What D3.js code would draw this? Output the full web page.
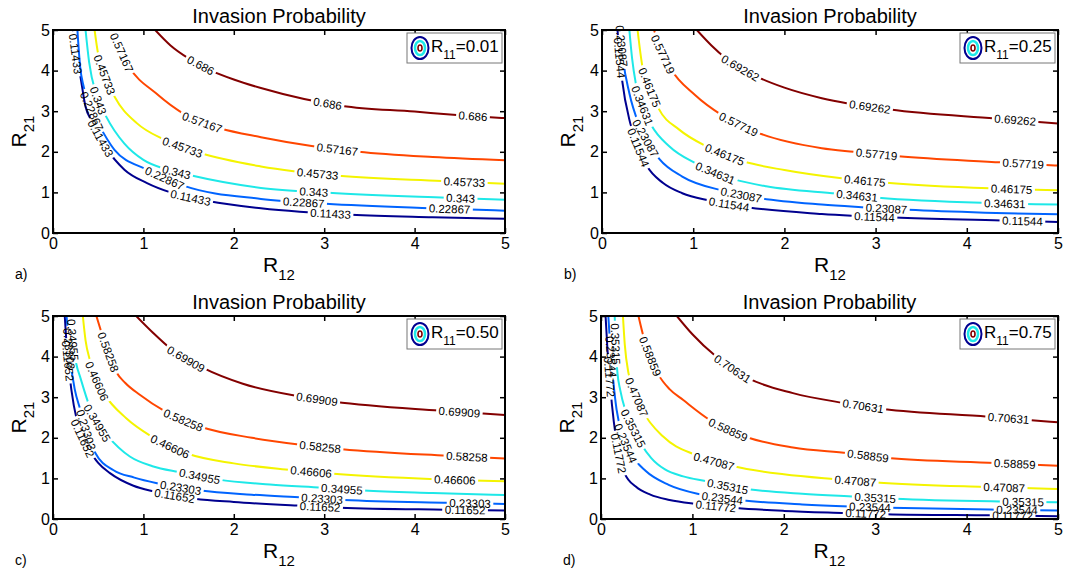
<!DOCTYPE html>
<html>
<head>
<meta charset="utf-8">
<script src="https://cdn.jsdelivr.net/npm/d3@7"></script>
<style>
body { margin: 0; background: #fff; }
text { font-family: Arial, "Liberation Sans", sans-serif; }
</style>
</head>
<body>
<script>
// panel tags and the R11 value shown in each legend
var panelTags = ['a)', 'b)', 'c)', 'd)']
var r11Values = ['0.01', '0.25', '0.50', '0.75']
var xTicks = [0, 1, 2, 3, 4, 5]
var yTicks = [0, 1, 2, 3, 4, 5]

// contour levels (as printed by clabel), low -> high
var levelsA = ['0.11433', '0.22867', '0.343', '0.45733', '0.57167', '0.686']
var levelsB = ['0.11544', '0.23087', '0.34631', '0.46175', '0.57719', '0.69262']
var levelsC = ['0.11652', '0.23303', '0.34955', '0.46606', '0.58258', '0.69909']
var levelsD = ['0.11772', '0.23544', '0.35315', '0.47087', '0.58859', '0.70631']

// contour lines, [R12, R21]
var curvesA = [
  [[0.22,5],[0.25,4.4],[0.30,3.89],[0.36,3.11],[0.43,2.75],[0.59,2.09],[0.79,1.56],[1.04,1.23],[1.3,1.0],[1.73,0.78],[2.3,0.61],[3.3,0.45],[4.2,0.39],[5,0.35]],
  [[0.27,5],[0.30,4.1],[0.34,3.6],[0.41,3.1],[0.5,2.7],[0.68,2.05],[1.04,1.56],[1.45,1.16],[2.3,0.84],[3.02,0.72],[4.17,0.61],[5,0.55]],
  [[0.36,5],[0.40,4.2],[0.48,3.4],[0.59,2.86],[0.79,2.2],[1.0,1.8],[1.25,1.57],[1.52,1.42],[2.3,1.11],[3.05,0.99],[4.35,0.87],[5,0.82]],
  [[0.46,5],[0.5,4.4],[0.57,3.9],[0.68,3.36],[0.93,2.7],[1.23,2.3],[1.63,1.97],[2.3,1.64],[3.16,1.41],[4.3,1.28],[5,1.21]],
  [[0.67,5],[0.75,4.5],[0.84,4.11],[1.14,3.44],[1.45,2.93],[1.85,2.58],[2.3,2.36],[3.38,2.0],[4.2,1.87],[5,1.79]],
  [[1.13,5],[1.3,4.62],[1.5,4.3],[1.75,4.0],[2.0,3.78],[2.3,3.57],[3.2,3.13],[4.0,2.99],[4.5,2.9],[5,2.83]]
]
var curvesB = [
  [[0.17,5],[0.19,4.4],[0.22,3.77],[0.31,2.7],[0.4,2.1],[0.49,1.66],[0.67,1.23],[0.88,0.98],[1.18,0.8],[1.61,0.63],[2.41,0.47],[3.21,0.38],[4.38,0.31],[5,0.27]],
  [[0.2,5],[0.23,4.3],[0.3,3.44],[0.4,2.7],[0.5,2.25],[0.63,1.82],[0.88,1.39],[1.33,1.04],[1.75,0.85],[2.41,0.7],[2.9,0.63],[3.36,0.57],[4.2,0.5],[5,0.46]],
  [[0.3,5],[0.33,4.3],[0.37,3.69],[0.45,3.1],[0.54,2.66],[0.74,2.13],[1.04,1.7],[1.25,1.47],[1.45,1.32],[1.8,1.15],[2.57,0.97],[3.03,0.87],[4.2,0.74],[5,0.7]],
  [[0.39,5],[0.44,4.14],[0.52,3.6],[0.62,3.07],[0.85,2.54],[1.15,2.13],[1.56,1.76],[2.0,1.55],[2.65,1.34],[3.12,1.24],[4.25,1.1],[5,1.05]],
  [[0.57,5],[0.65,4.5],[0.75,4.06],[1.02,3.4],[1.31,2.91],[1.70,2.48],[2.41,2.09],[2.76,2.0],[3.25,1.89],[4.38,1.74],[5,1.66]],
  [[1.04,5],[1.2,4.62],[1.36,4.3],[1.70,3.85],[2.0,3.58],[2.41,3.32],[3.16,3.04],[4.31,2.82],[5,2.7]]
]
var curvesC = [
  [[0.13,5],[0.15,4.3],[0.18,3.6],[0.23,2.8],[0.3,2.15],[0.39,1.75],[0.5,1.38],[0.63,1.13],[0.89,0.82],[1.11,0.68],[1.57,0.5],[2.0,0.42],[2.7,0.33],[3.18,0.28],[4.33,0.23],[5,0.21]],
  [[0.15,5],[0.17,4.4],[0.19,3.93],[0.24,3.2],[0.3,2.71],[0.38,2.1],[0.47,1.62],[0.67,1.2],[0.9,1.02],[1.15,0.88],[1.63,0.7],[2.2,0.6],[2.76,0.53],[3.22,0.47],[4.38,0.4],[5,0.37]],
  [[0.2,5],[0.22,4.4],[0.26,3.8],[0.3,3.5],[0.4,2.8],[0.49,2.36],[0.59,2.08],[0.85,1.54],[1.1,1.3],[1.41,1.15],[1.83,0.97],[2.4,0.85],[2.98,0.77],[3.44,0.7],[4.2,0.64],[5,0.59]],
  [[0.33,5],[0.36,4.4],[0.41,3.9],[0.49,3.38],[0.56,3.1],[0.81,2.48],[1.09,2.03],[1.5,1.6],[2.0,1.37],[2.63,1.21],[3.07,1.12],[4.23,0.98],[5,0.93]],
  [[0.48,5],[0.55,4.5],[0.61,4.12],[0.70,3.62],[0.8,3.35],[0.96,3.06],[1.24,2.65],[1.65,2.26],[2.2,2.0],[2.74,1.83],[3.2,1.72],[4.36,1.56],[5,1.49]],
  [[0.92,5],[1.1,4.6],[1.31,4.18],[1.66,3.72],[2.1,3.33],[2.7,3.03],[3.12,2.89],[4.27,2.67],[5,2.56]]
]
var curvesD = [
  [[0.05,5],[0.07,4.2],[0.1,3.3],[0.14,2.4],[0.19,1.65],[0.26,1.12],[0.38,0.8],[0.54,0.6],[0.75,0.47],[1.05,0.37],[1.48,0.27],[2.0,0.2],[2.67,0.15],[3.12,0.12],[4.27,0.09],[5,0.07]],
  [[0.08,5],[0.1,4.3],[0.13,3.5],[0.17,2.7],[0.24,2.05],[0.33,1.6],[0.49,1.18],[0.74,0.84],[1.1,0.6],[1.54,0.46],[2.2,0.36],[2.72,0.31],[3.16,0.28],[4.33,0.23],[5,0.21]],
  [[0.15,5],[0.16,4.3],[0.18,3.6],[0.21,3.18],[0.27,2.65],[0.36,2.2],[0.44,1.85],[0.55,1.5],[0.7,1.22],[0.9,1.05],[1.17,0.92],[1.39,0.8],[1.61,0.73],[2.2,0.62],[2.78,0.55],[3.21,0.5],[4.4,0.43],[5,0.41]],
  [[0.24,5],[0.26,4.3],[0.3,3.6],[0.34,3.28],[0.39,3.0],[0.46,2.65],[0.68,2.03],[1.03,1.58],[1.45,1.3],[2.0,1.1],[2.56,0.98],[3.01,0.9],[4.18,0.79],[5,0.74]],
  [[0.41,5],[0.47,4.45],[0.54,4.0],[0.63,3.55],[0.75,3.2],[0.9,2.93],[1.19,2.44],[1.59,2.02],[2.1,1.76],[2.7,1.62],[3.14,1.5],[4.31,1.38],[5,1.31]],
  [[0.83,5],[1.0,4.55],[1.26,4.0],[1.61,3.47],[2.1,3.1],[2.65,2.86],[3.09,2.71],[4.23,2.52],[5,2.38]]
]

// where the inline labels sit, [R12, R21] (snapped onto the line)
var labelsA = [
  [[0.24,4.4],[0.5,2.3],[1.52,0.88],[3.07,0.48]],
  [[0.44,3.0],[1.24,1.35],[2.77,0.76],[4.39,0.58]],
  [[0.5,3.25],[1.37,1.5],[2.89,1.02],[4.51,0.86]],
  [[0.57,3.9],[1.43,2.12],[2.93,1.46],[4.55,1.26]],
  [[0.76,4.45],[1.65,2.75],[3.14,2.07]],
  [[1.63,4.11],[3.04,3.18],[4.64,2.85]]
]
var labelsB = [
  [[0.18,4.3],[0.4,2.1],[1.4,0.72],[2.99,0.4],[4.61,0.29]],
  [[0.21,4.6],[0.48,2.35],[1.53,0.92],[3.12,0.6]],
  [[0.45,3.15],[1.25,1.5],[2.8,0.92],[4.42,0.72]],
  [[0.53,3.6],[1.35,1.95],[2.88,1.3],[4.49,1.08]],
  [[0.66,4.4],[1.5,2.7],[3.01,1.95],[4.62,1.7]],
  [[1.54,4.15],[2.94,3.12],[4.53,2.78]]
]
var labelsC = [
  [[0.14,3.9],[0.3,1.95],[1.35,0.58],[2.95,0.3],[4.56,0.22]],
  [[0.17,4.2],[0.37,2.2],[1.41,0.78],[2.98,0.49],[4.61,0.38]],
  [[0.22,4.4],[0.49,2.36],[1.62,1.05],[3.2,0.73]],
  [[0.49,3.4],[1.3,1.8],[2.85,1.17],[4.45,0.96]],
  [[0.61,4.1],[1.44,2.45],[2.96,1.77],[4.58,1.53]],
  [[1.47,3.95],[2.92,2.97],[4.5,2.63]]
]
var labelsD = [
  [[0.07,3.5],[0.19,1.61],[1.26,0.32],[2.89,0.13],[4.5,0.08]],
  [[0.1,4.0],[0.26,1.85],[1.33,0.52],[2.94,0.29],[4.55,0.22]],
  [[0.15,4.3],[0.36,2.24],[1.39,0.8],[3.0,0.48],[4.62,0.42]],
  [[0.39,3.0],[1.24,1.42],[2.78,0.94],[4.41,0.77]],
  [[0.54,4.0],[1.39,2.2],[2.92,1.56],[4.53,1.34]],
  [[1.44,3.72],[2.87,2.78],[4.46,2.45]]
]

var levels = [levelsA, levelsB, levelsC, levelsD]
var curves = [curvesA, curvesB, curvesC, curvesD]
var labels = [labelsA, labelsB, labelsC, labelsD]

// jet-like colours, one per level
var levelColors = ['#00008f', '#0064ff', '#1ee8e8', '#f4f400', '#ff4600', '#830000']

var W = 1073, H = 572
var boxes = [
  { x0: 53, x1: 505, y0: 30, y1: 233 },
  { x0: 602, x1: 1058, y0: 30, y1: 233 },
  { x0: 53, x1: 505, y0: 316, y1: 519 },
  { x0: 601, x1: 1058, y0: 316, y1: 519 }
]

var svg = d3.select('body').append('svg')
  .attr('width', W)
  .attr('height', H)
var defs = svg.append('defs')

boxes.forEach(function(b, p) {
  var x = d3.scaleLinear().domain([0, 5]).range([b.x0, b.x1])
  var y = d3.scaleLinear().domain([0, 5]).range([b.y1, b.y0])
  var g = svg.append('g').attr('class', 'panel')

  defs.append('clipPath').attr('id', 'clip' + p)
    .append('rect')
    .attr('x', b.x0).attr('y', b.y0)
    .attr('width', b.x1 - b.x0).attr('height', b.y1 - b.y0)

  var line = d3.line()
    .x(function(d) { return x(d[0]) })
    .y(function(d) { return y(d[1]) })
    .curve(d3.curveMonotoneX)

  var lineLayer = g.append('g')
  var labelLayer = g.append('g')

  curves[p].forEach(function(pts, i) {
    var maskId = 'mask' + p + '_' + i
    var mask = defs.append('mask').attr('id', maskId)
      .attr('maskUnits', 'userSpaceOnUse')
      .attr('x', 0).attr('y', 0).attr('width', W).attr('height', H)
    mask.append('rect').attr('width', W).attr('height', H).attr('fill', '#fff')

    var path = lineLayer.append('g')
      .attr('clip-path', 'url(#clip' + p + ')')
      .append('path')
      .attr('d', line(pts))
      .attr('fill', 'none')
      .attr('stroke', levelColors[i])
      .attr('stroke-width', 2)
      .attr('mask', 'url(#' + maskId + ')')

    var node = path.node()
    var total = node.getTotalLength()
    var samples = d3.range(0, total, 1).map(function(l) { return node.getPointAtLength(l) })

    labels[p][i].forEach(function(t) {
      var tx = x(t[0]), ty = y(t[1])
      var best = 0, bd = Infinity
      samples.forEach(function(s, k) {
        var d = (s.x - tx) * (s.x - tx) + (s.y - ty) * (s.y - ty)
        if (d < bd) { bd = d; best = k }
      })
      var a = samples[Math.max(best - 5, 0)]
      var c = samples[Math.min(best + 5, samples.length - 1)]
      var ang = Math.atan2(c.y - a.y, c.x - a.x) * 180 / Math.PI
      if (ang > 90) ang -= 180
      if (ang < -90) ang += 180
      var s = samples[best]
      var tr = 'translate(' + s.x + ',' + s.y + ') rotate(' + ang + ')'
      var txt = labelLayer.append('text')
        .attr('transform', tr)
        .attr('text-anchor', 'middle')
        .attr('dy', '0.36em')
        .attr('font-size', 11.5)
        .attr('fill', '#000')
        .text(levels[p][i])
      var w = txt.node().getComputedTextLength() + 5
      mask.append('rect')
        .attr('x', -w / 2).attr('y', -5)
        .attr('width', w).attr('height', 10)
        .attr('transform', tr)
        .attr('fill', '#000')
    })
  })

  // ticks on all four sides, pointing in
  function styleAxis(sel) {
    sel.select('.domain').remove()
    sel.selectAll('.tick line').attr('stroke', '#000').attr('stroke-width', 1.5)
    sel.selectAll('.tick text')
      .attr('fill', '#000')
      .attr('font-size', 16)
      .attr('font-family', 'Arial, "Liberation Sans", sans-serif')
  }
  g.append('g')
    .attr('transform', 'translate(0,' + b.y1 + ')')
    .call(d3.axisBottom(x).tickValues(xTicks).tickFormat(d3.format('d'))
      .tickSizeInner(-5).tickSizeOuter(0).tickPadding(5))
    .call(styleAxis)
  g.append('g')
    .attr('transform', 'translate(0,' + b.y0 + ')')
    .call(d3.axisTop(x).tickValues(xTicks).tickFormat('')
      .tickSizeInner(-5).tickSizeOuter(0))
    .call(styleAxis)
  g.append('g')
    .attr('transform', 'translate(' + b.x0 + ',0)')
    .call(d3.axisLeft(y).tickValues(yTicks).tickFormat(d3.format('d'))
      .tickSizeInner(-5).tickSizeOuter(0).tickPadding(3))
    .call(styleAxis)
  g.append('g')
    .attr('transform', 'translate(' + b.x1 + ',0)')
    .call(d3.axisRight(y).tickValues(yTicks).tickFormat('')
      .tickSizeInner(-5).tickSizeOuter(0))
    .call(styleAxis)

  g.append('rect')
    .attr('x', b.x0).attr('y', b.y0)
    .attr('width', b.x1 - b.x0).attr('height', b.y1 - b.y0)
    .attr('fill', 'none')
    .attr('stroke', '#000')
    .attr('stroke-width', 2)

  // title
  g.append('text')
    .attr('x', (b.x0 + b.x1) / 2)
    .attr('y', b.y0 - 7)
    .attr('text-anchor', 'middle')
    .attr('font-size', 20)
    .text('Invasion Probability')

  // axis labels
  var xl = g.append('text')
    .attr('x', (b.x0 + b.x1) / 2)
    .attr('y', b.y1 + 39)
    .attr('text-anchor', 'middle')
    .attr('font-size', 21)
  xl.append('tspan').text('R')
  xl.append('tspan').attr('font-size', 15).attr('dy', 8).text('12')

  var yl = g.append('text')
    .attr('transform', 'translate(' + (b.x0 - 27) + ',' + ((b.y0 + b.y1) / 2) + ') rotate(-90)')
    .attr('text-anchor', 'middle')
    .attr('font-size', 21)
  yl.append('tspan').text('R')
  yl.append('tspan').attr('font-size', 15).attr('dy', 8).text('21')

  // panel tag
  g.append('text')
    .attr('x', b.x0 - 38)
    .attr('y', b.y1 + 46)
    .attr('font-size', 14)
    .text(panelTags[p])

  // legend
  var lg = g.append('g').attr('transform', 'translate(' + (b.x1 - 98) + ',' + (b.y0 + 3) + ')')
  lg.append('rect')
    .attr('width', 95).attr('height', 30)
    .attr('fill', '#fff')
    .attr('stroke', '#777')
    .attr('stroke-width', 1)
  lg.append('ellipse').attr('cx', 13).attr('cy', 15).attr('rx', 8.5).attr('ry', 11)
    .attr('fill', 'none').attr('stroke', levelColors[0]).attr('stroke-width', 2)
  lg.append('ellipse').attr('cx', 13).attr('cy', 15).attr('rx', 5).attr('ry', 7)
    .attr('fill', 'none').attr('stroke', levelColors[2]).attr('stroke-width', 2.5)
  lg.append('ellipse').attr('cx', 13).attr('cy', 15).attr('rx', 2).attr('ry', 3)
    .attr('fill', 'none').attr('stroke', levelColors[5]).attr('stroke-width', 1.6)
  var lt = lg.append('text').attr('x', 24).attr('y', 19).attr('font-size', 17)
  lt.append('tspan').text('R')
  lt.append('tspan').attr('font-size', 12).attr('dy', 7).text('11')
  lt.append('tspan').attr('dy', -7).text('=' + r11Values[p])
})
</script>
</body>
</html>
